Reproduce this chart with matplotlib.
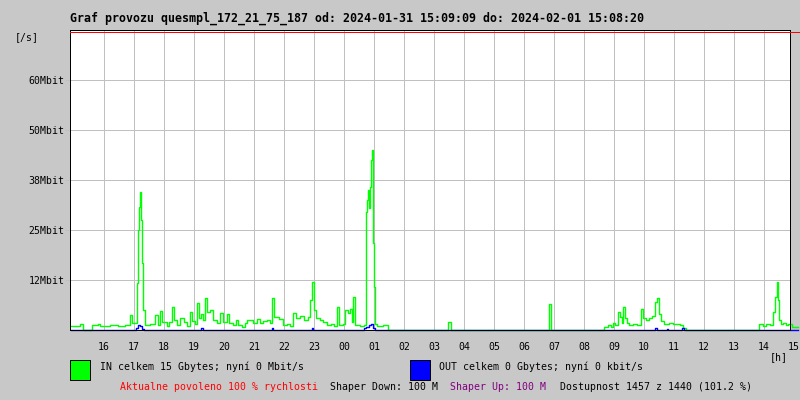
import numpy as np
import matplotlib.pyplot as plt
from matplotlib.patches import Rectangle
from matplotlib.transforms import blended_transform_factory

# Traffic data (time in hours from midnight of 2024-01-31, values in Mbit/s)
in_hours = [14.90, 15.20, 15.30, 15.60, 15.80, 15.87, 16.20, 16.47, 16.70, 16.87,
            16.93, 17.10, 17.13, 17.17, 17.20, 17.23, 17.27, 17.30, 17.37, 17.53,
            17.70, 17.80, 17.87, 17.93, 18.10, 18.17, 18.27, 18.33, 18.43, 18.53,
            18.67, 18.77, 18.87, 18.93, 19.03, 19.10, 19.17, 19.23, 19.30, 19.37,
            19.43, 19.53, 19.63, 19.77, 19.87, 19.97, 20.10, 20.17, 20.30, 20.40,
            20.47, 20.60, 20.70, 20.77, 20.97, 21.10, 21.20, 21.30, 21.43, 21.53,
            21.60, 21.67, 21.83, 21.97, 22.10, 22.20, 22.30, 22.40, 22.53, 22.67,
            22.80, 22.87, 22.93, 23.00, 23.07, 23.20, 23.30, 23.43, 23.57, 23.67,
            23.77, 23.83, 23.97, 24.03, 24.13, 24.20, 24.27, 24.30, 24.37, 24.53,
            24.67, 24.73, 24.77, 24.80, 24.83, 24.87, 24.90, 24.93, 24.97, 25.00,
            25.03, 25.10, 25.30, 25.47, 27.47, 27.57, 30.83, 30.90, 32.67, 32.80,
            32.90, 32.97, 33.03, 33.13, 33.20, 33.27, 33.30, 33.37, 33.43, 33.50,
            33.63, 33.77, 33.90, 33.97, 34.07, 34.17, 34.27, 34.37, 34.43, 34.50,
            34.57, 34.67, 34.83, 34.97, 35.07, 35.20, 35.30, 35.40, 37.83, 37.97,
            38.07, 38.20, 38.30, 38.37, 38.43, 38.47, 38.50, 38.57, 38.63, 38.73,
            38.80, 38.93, 39.13]
in_mbit = [1.0, 1.5, 0.0, 1.3, 1.6, 1.1, 1.3, 1.0, 1.3, 3.7,
           1.7, 11.7, 25.0, 30.8, 34.6, 27.5, 16.7, 5.0, 1.2, 1.5,
           3.75, 1.3, 4.8, 2.0, 1.0, 2.0, 5.7, 2.5, 1.2, 3.0,
           2.0, 1.0, 4.6, 2.2, 1.5, 6.7, 3.0, 4.0, 2.5, 8.0,
           4.6, 5.0, 2.5, 1.7, 4.3, 2.1, 4.0, 1.7, 1.2, 2.4,
           1.3, 0.8, 1.8, 2.5, 1.7, 2.8, 1.7, 2.2, 2.6, 1.8,
           8.0, 3.3, 2.8, 1.2, 1.6, 1.0, 4.2, 3.0, 3.5, 2.6,
           3.2, 7.5, 12.0, 5.0, 3.0, 2.5, 2.0, 1.3, 1.6, 1.0,
           5.8, 1.2, 1.4, 5.0, 4.2, 5.2, 2.0, 8.3, 1.2, 1.0,
           1.3, 29.6, 32.5, 35.0, 30.5, 35.8, 42.5, 45.0, 21.7, 10.8,
           1.5, 1.0, 1.2, 0.0, 2.0, 0.0, 6.5, 0.0, 0.8, 1.3,
           0.8, 1.8, 1.3, 4.6, 3.3, 1.7, 5.8, 3.0, 1.8, 1.3,
           1.6, 1.2, 5.2, 3.0, 2.4, 3.0, 3.4, 7.0, 8.0, 4.0,
           2.2, 1.6, 1.8, 1.4, 1.6, 1.3, 0.6, 0.0, 1.5, 1.0,
           1.6, 1.3, 4.6, 8.3, 12.0, 7.5, 2.5, 1.5, 1.8, 1.2,
           1.5, 0.8, 0.8]

out_hours = [14.90, 17.07, 17.13, 17.20, 17.27, 17.33, 19.23, 19.30, 21.60, 21.63,
             22.93, 22.97, 24.67, 24.73, 24.83, 24.90, 24.97, 25.03, 34.37, 34.43,
             34.77, 34.80, 35.27, 35.33, 39.13]
out_mbit = [0.0, 0.5, 1.2, 1.0, 0.3, 0.0, 0.4, 0.0, 0.4, 0.0,
            0.4, 0.0, 0.5, 0.8, 1.2, 1.5, 0.5, 0.0, 0.4, 0.0,
            0.3, 0.0, 0.4, 0.0, 0.0]

hour_ticks = list(range(16, 39))
hour_labels = ['%02d' % (h % 24) for h in hour_ticks]
y_ticks = [12.5, 25, 37.5, 50, 62.5]
y_labels = ['12Mbit', '25Mbit', '38Mbit', '50Mbit', '60Mbit']

title = 'Graf provozu quesmpl_172_21_75_187 od: 2024-01-31 15:09:09 do: 2024-02-01 15:08:20'

plt.rcParams['font.family'] = 'DejaVu Sans Mono'
fs = 7.1
bg = '#c8c8c8'
grid = '#c0c0c0'
px = 0.72  # one pixel in points

fig = plt.figure(figsize=(8, 4), dpi=100, facecolor=bg)
ax = fig.add_axes([70 / 800, 70 / 400, 720 / 800, 300 / 400])
ax.set_facecolor('white')

# Plot the traffic
ax.step(in_hours, in_mbit, where='post', color='#00ff00', lw=1.0,
        clip_on=False, zorder=3)
ax.step(out_hours, out_mbit, where='post', color='#0000ff', lw=1.0,
        clip_on=False, zorder=3)

ax.set_xlim(14.867, 38.867)
ax.set_ylim(0, 75)

ax.set_xticks(hour_ticks)
ax.set_xticklabels(hour_labels, fontsize=fs)
ax.set_yticks(y_ticks)
ax.set_yticklabels(y_labels, fontsize=fs)
ax.tick_params(axis='x', length=0, pad=8.5)
ax.tick_params(axis='y', length=3.6, width=px, color=grid, pad=0.5)
ax.grid(True, color=grid, lw=px, antialiased=False)
ax.set_axisbelow(True)

for s in ['left', 'bottom', 'right', 'top']:
    ax.spines[s].set_linewidth(px)
    ax.spines[s].set_color('black')
    ax.spines[s].set_zorder(4)
    ax.spines[s].set_antialiased(False)

# Red top line reaching past the right edge
ax.plot([0, 730 / 720], [0.994, 0.994], transform=ax.transAxes, color='red',
        lw=px, clip_on=False, zorder=5, antialiased=False)

# Last hour label outside the plot area
trans = blended_transform_factory(ax.transData, ax.transAxes)
ax.text(39, -17 / 300, '15', transform=trans, fontsize=fs, ha='center', va='center',
        clip_on=False)

fig.text(70 / 800, 1 - 18 / 400, title, fontsize=8.4, fontweight='bold', va='center')
fig.text(15 / 800, 1 - 37 / 400, '[/s]', fontsize=fs, va='center')
fig.text(770 / 800, 1 - 357 / 400, '[h]', fontsize=fs, va='center')

# Legend
fig.add_artist(Rectangle((70 / 800, 1 - 380 / 400), 20 / 800, 20 / 400,
                         transform=fig.transFigure, fc='#00ff00', ec='black', lw=px))
fig.add_artist(Rectangle((410 / 800, 1 - 380 / 400), 20 / 800, 20 / 400,
                         transform=fig.transFigure, fc='#0000ff', ec='black', lw=px))
fig.text(100 / 800, 1 - 367 / 400, 'IN celkem 15 Gbytes; nyní 0 Mbit/s', fontsize=fs, va='center')
fig.text(439 / 800, 1 - 367 / 400, 'OUT celkem 0 Gbytes; nyní 0 kbit/s', fontsize=fs, va='center')

fig.text(120 / 800, 1 - 387 / 400, 'Aktualne povoleno 100 % rychlosti', fontsize=fs, va='center', color='red')
fig.text(330 / 800, 1 - 387 / 400, 'Shaper Down: 100 M', fontsize=fs, va='center')
fig.text(450 / 800, 1 - 387 / 400, 'Shaper Up: 100 M', fontsize=fs, va='center', color='#800080')
fig.text(560 / 800, 1 - 387 / 400, 'Dostupnost 1457 z 1440 (101.2 %)', fontsize=fs, va='center')

fig.savefig('out.png', dpi=100, facecolor=bg)
